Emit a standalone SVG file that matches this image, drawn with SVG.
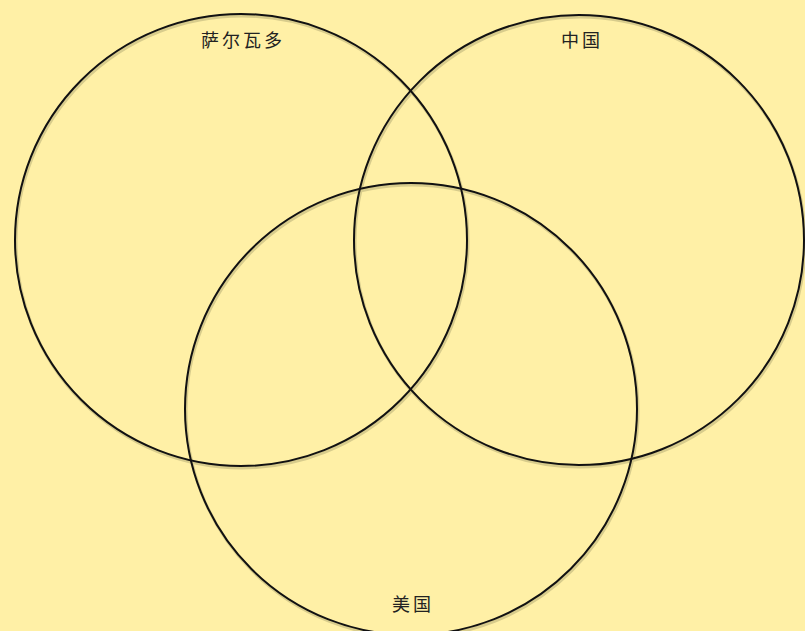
<svg xmlns="http://www.w3.org/2000/svg" width="805" height="631" viewBox="0 0 805 631">
<defs>
<style>
.c{fill:none;stroke:#111;stroke-width:2}
.s{fill:none;stroke:#d8cc8c;stroke-width:3}
.t{font-family:"Noto Sans CJK SC","Noto Sans",sans-serif;font-size:18px;fill:#222;text-anchor:middle;letter-spacing:3px}
</style>
</defs>
<rect width="805" height="631" fill="#fff0a6"/>
<g id="shadows">
<circle class="s" cx="242" cy="242" r="226"/>
<circle class="s" cx="580" cy="242" r="225"/>
<circle class="s" cx="412" cy="411" r="226"/>
</g>
<g id="salvador">
<circle class="c" cx="241" cy="240" r="226"/>
<text class="t" x="243" y="47">萨尔瓦多</text>
</g>
<g id="china">
<circle class="c" cx="579" cy="240" r="225"/>
<text class="t" x="582" y="47">中国</text>
</g>
<g id="usa">
<circle class="c" cx="411" cy="409" r="226"/>
<text class="t" x="413" y="611">美国</text>
</g>
<g id="connectors"/>
</svg>
